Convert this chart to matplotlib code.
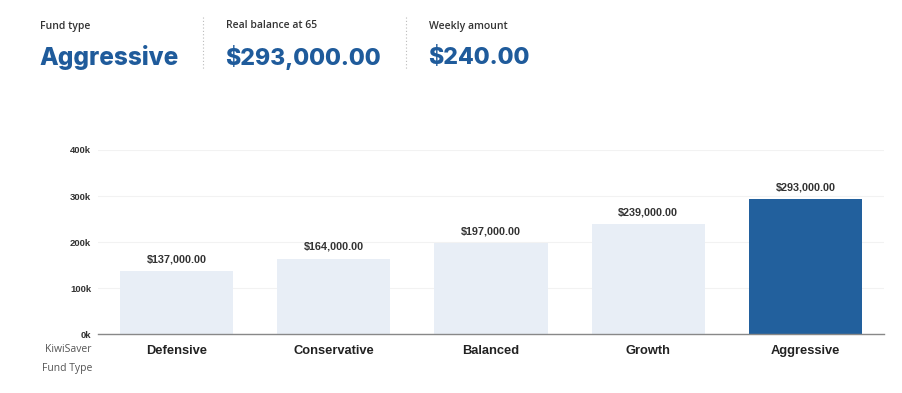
import matplotlib
matplotlib.use("Agg")
import matplotlib.pyplot as plt
from matplotlib.ticker import FuncFormatter

categories = ["Defensive", "Conservative", "Balanced", "Growth", "Aggressive"]
balances = [137000, 164000, 197000, 239000, 293000]
selected = "Aggressive"
yticks = [0, 100000, 200000, 300000, 400000]
header_labels = ["Fund type", "Real balance at 65", "Weekly amount"]
header_values = ["Aggressive", "$293,000.00", "$240.00"]
header_sizes = [17.5, 16.6, 16.6]

LIGHT = "#e8eef6"
DARK = "#22609d"
HEAD = "#1f5b9b"

fig = plt.figure(figsize=(9.03, 3.93), dpi=100)
W, H = 903, 393

def fx(px):
    return px / W

def fy(py):
    return 1 - py / H

# header
hx = [40, 226, 429]
for x, lab, val, fs in zip(hx, header_labels, header_values, header_sizes):
    fig.text(fx(x), fy(26), lab, fontsize=7.5, family="Open Sans", color="#333333",
             va="center", ha="left", fontweight="semibold")
    fig.text(fx(x - 1), fy(57.5), val, fontsize=fs, family="Inter", color=HEAD,
             va="center", ha="left", fontweight="heavy")
for x in [203, 406]:
    fig.add_artist(plt.Line2D([fx(x), fx(x)], [fy(17), fy(70)], transform=fig.transFigure,
                              color="#bbbbbb", lw=0.8, ls=(0, (1, 2))))

ax = fig.add_axes([fx(98), fy(334), fx(884) - fx(98), fy(150) - fy(334)])
colors = [DARK if c == selected else LIGHT for c in categories]
x = range(len(categories))
bars = ax.bar(x, balances, width=0.72, color=colors, zorder=2)
for xi, v in zip(x, balances):
    ax.annotate(f"${v:,.2f}", (xi, v), xytext=(0, 5), textcoords="offset points",
                ha="center", va="bottom", fontsize=7.8, fontweight="bold",
                family="Liberation Sans", color="#333333")

ax.set_xlim(-0.5, len(categories) - 0.5)
ax.set_ylim(0, 400000)
ax.set_yticks(yticks)
ax.yaxis.set_major_formatter(FuncFormatter(lambda v, p: f"{int(v/1000)}k"))
ax.set_xticks(list(x))
ax.set_xticklabels(categories, fontsize=9.3, fontweight="bold", family="Liberation Sans",
                   color="#222222")
for lab in ax.get_yticklabels():
    lab.set_fontsize(6.8)
    lab.set_fontweight("bold")
    lab.set_family("Liberation Sans")
    lab.set_color("#333333")
ax.tick_params(axis="both", length=0)
ax.tick_params(axis="y", pad=5)
ax.tick_params(axis="x", pad=8)
ax.grid(axis="y", color="#f2f2f2", lw=0.8, zorder=0)
for s in ["top", "right", "left"]:
    ax.spines[s].set_visible(False)
ax.spines["bottom"].set_color("#888888")
ax.spines["bottom"].set_linewidth(1)
ax.spines["bottom"].set_zorder(3)

fig.text(fx(92), fy(350), "KiwiSaver", fontsize=7.5, family="Open Sans", color="#555555",
         ha="right", va="center")
fig.text(fx(92), fy(369), "Fund Type", fontsize=7.5, family="Open Sans", color="#555555",
         ha="right", va="center")

fig.savefig("out.png", dpi=100, facecolor="white")
